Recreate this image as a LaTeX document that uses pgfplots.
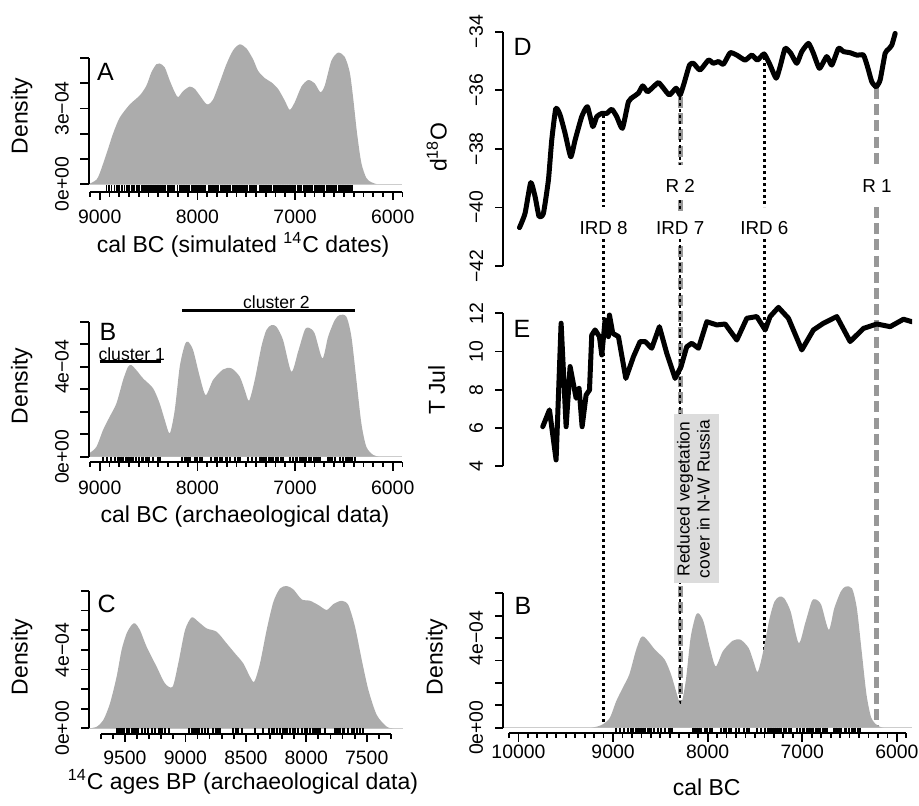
\documentclass[border=0pt]{standalone}
\usepackage{fontspec}
\setmainfont{Liberation Sans}
\usepackage{pgfplots}
\usepackage{pgfplotstable}
\pgfplotsset{compat=1.18}

\definecolor{densfill}{RGB}{172,172,172}
\definecolor{zerogray}{RGB}{205,205,205}
\definecolor{evgray}{RGB}{152,152,152}
\definecolor{boxgray}{RGB}{220,220,220}

\newcommand\tickfont{\fontsize{9.7}{11}\selectfont}
\newcommand\labfont{\fontsize{11.5}{13}\selectfont}
\newcommand\letfont{\fontsize{12.5}{14}\selectfont}
\newcommand\evfont{\fontsize{9.4}{11}\selectfont}
\newcommand\clusfont{\fontsize{8.8}{10}\selectfont}
\newcommand\boxfont{\fontsize{8.7}{10}\selectfont}

\tikzset{
  rline/.style={line width=0.9pt},
  xtl/.style={font=\tickfont, inner sep=0pt, anchor=center},
  ytl/.style={font=\tickfont, inner sep=0pt, rotate=90, anchor=center},
  ttl/.style={font=\labfont, inner sep=0pt, anchor=center},
  let/.style={font=\letfont, inner sep=0pt, anchor=west},
}
\pgfplotsset{
  panel/.style={scale only axis, hide axis, clip mode=individual, x dir=reverse, anchor=south west},
  dens/.style={fill=densfill, draw=none, smooth, tension=0.45},
  rug/.style={only marks, mark=|, mark size=1.45pt, mark options={line width=1.1pt, black}},
  proxy/.style={black, line width=2.5pt, line join=round, line cap=round},
  evline/.style={evgray, line width=2.5pt, dash pattern=on 5.5pt off 2.6pt},
  irdline/.style={black, line width=1.25pt, dash pattern=on 1.7pt off 1.3pt},
}

% density, simulated 14C dates (A)
\pgfplotstableread{
yr d
9109 0
9034 0.17e-4
9000 0.43e-4
8932 1.19e-4
8863 2.01e-4
8795 2.64e-4
8693 3.16e-4
8590 3.52e-4
8522 3.91e-4
8471 4.44e-4
8420 4.76e-4
8386 4.79e-4
8334 4.63e-4
8283 4.11e-4
8232 3.65e-4
8198 3.45e-4
8147 3.69e-4
8078 3.87e-4
8027 3.78e-4
7976 3.52e-4
7925 3.25e-4
7891 3.16e-4
7840 3.35e-4
7771 4.04e-4
7703 4.76e-4
7635 5.31e-4
7567 5.55e-4
7498 5.39e-4
7430 4.96e-4
7379 4.50e-4
7311 4.21e-4
7242 4.04e-4
7174 3.78e-4
7106 3.32e-4
7055 2.95e-4
7003 3.25e-4
6935 3.87e-4
6867 4.13e-4
6799 4.00e-4
6741 3.65e-4
6696 3.91e-4
6628 4.90e-4
6560 5.22e-4
6491 5.05e-4
6440 4.44e-4
6406 3.45e-4
6365 2.01e-4
6321 0.83e-4
6270 0.24e-4
6218 0.07e-4
6167 0
}\densA

% density, archaeological data (B)
\pgfplotstableread{
yr d
9230 0
9170 0.05e-4
9109 0.15e-4
9034 0.44e-4
8966 1.19e-4
8898 1.78e-4
8829 2.37e-4
8761 3.41e-4
8710 4.00e-4
8676 4.07e-4
8625 3.85e-4
8556 3.48e-4
8454 3.04e-4
8386 2.37e-4
8334 1.63e-4
8283 1.04e-4
8232 2.07e-4
8181 4.00e-4
8130 4.96e-4
8096 5.11e-4
8044 4.74e-4
7976 3.56e-4
7915 2.74e-4
7840 3.41e-4
7737 3.88e-4
7652 3.93e-4
7567 3.56e-4
7515 2.96e-4
7471 2.49e-4
7413 3.41e-4
7345 4.89e-4
7294 5.63e-4
7242 5.85e-4
7191 5.78e-4
7123 5.19e-4
7038 3.78e-4
6969 4.67e-4
6901 5.63e-4
6857 5.73e-4
6799 5.48e-4
6720 4.37e-4
6662 5.33e-4
6594 6.07e-4
6543 6.30e-4
6474 6.22e-4
6423 5.33e-4
6372 3.41e-4
6321 1.48e-4
6270 0.44e-4
6200 0.08e-4
6140 0
}\densB

% density, 14C ages BP (C)
\pgfplotstableread{
yr d
9795 0
9734 0.08e-4
9679 0.42e-4
9624 1.27e-4
9569 2.63e-4
9528 3.99e-4
9486 4.84e-4
9445 5.26e-4
9417 5.35e-4
9376 5.01e-4
9321 4.16e-4
9238 3.14e-4
9169 2.29e-4
9106 2.12e-4
9059 3.31e-4
9003 5.01e-4
8948 5.65e-4
8893 5.43e-4
8824 5.09e-4
8741 4.92e-4
8659 4.33e-4
8590 3.82e-4
8521 3.31e-4
8466 2.63e-4
8430 2.38e-4
8383 3.31e-4
8328 5.01e-4
8272 6.45e-4
8217 7.13e-4
8162 7.25e-4
8107 7.08e-4
8038 6.57e-4
7969 6.50e-4
7900 6.28e-4
7831 6.03e-4
7776 6.33e-4
7707 6.50e-4
7652 6.28e-4
7597 5.18e-4
7541 3.48e-4
7486 1.95e-4
7417 0.68e-4
7334 0.08e-4
7279 0
}\densC

% d18O (D)
\pgfplotstableread{
yr v
9989 -40.69
9930 -40.20
9870 -39.15
9824 -39.63
9782 -40.31
9736 -40.20
9683 -39.06
9648 -37.70
9605 -36.62
9560 -36.84
9507 -37.47
9447 -38.27
9401 -37.70
9331 -36.90
9271 -36.56
9214 -37.24
9172 -36.90
9119 -36.79
9066 -36.79
9013 -36.65
8961 -36.90
8901 -37.30
8837 -36.39
8784 -36.22
8732 -36.10
8686 -35.85
8636 -36.05
8580 -35.90
8520 -35.74
8467 -35.93
8404 -36.16
8333 -35.93
8291 -36.16
8249 -35.76
8192 -35.14
8150 -35.08
8080 -35.31
7992 -34.97
7939 -35.08
7886 -35.02
7833 -35.11
7762 -34.72
7692 -34.80
7604 -34.97
7533 -34.80
7474 -34.97
7403 -34.76
7340 -35.14
7276 -35.59
7234 -35.19
7181 -34.57
7121 -34.74
7058 -35.08
7005 -34.68
6934 -34.40
6882 -34.74
6818 -35.25
6741 -34.85
6688 -35.14
6617 -34.57
6564 -34.68
6494 -34.72
6423 -34.80
6353 -34.80
6311 -35.19
6265 -35.71
6219 -35.88
6177 -35.65
6124 -34.74
6089 -34.60
6054 -34.46
6018 -34.06
}\dO

% July temperature (E)
\pgfplotstableread{
yr t
9743 6.06
9672 6.94
9602 4.32
9549 11.48
9496 6.06
9454 9.21
9390 7.55
9359 8.07
9327 6.06
9285 7.72
9249 7.98
9225 10.86
9190 11.13
9144 10.78
9119 9.82
9084 11.65
9049 10.78
9038 11.91
9003 10.95
8943 10.78
8865 8.59
8784 9.73
8714 10.52
8661 10.52
8591 10.17
8510 11.30
8432 9.90
8344 8.59
8281 9.21
8221 10.25
8168 10.43
8097 10.17
8009 11.56
7903 11.39
7815 11.44
7692 10.60
7586 11.74
7481 11.83
7392 11.13
7340 11.83
7252 12.31
7146 11.74
7005 10.08
6882 11.13
6776 11.48
6635 11.83
6494 10.52
6353 11.21
6212 11.44
6071 11.30
5930 11.69
5842 11.56
}\tJul

% rugs (second column is a dummy weight)
\pgfplotstableread[row sep=\\]{yr w\\ 8930 1\\ 8905 1\\ 8878 1\\ 8850 1\\ 8826 1\\ 8800 1\\ 8772 1\\ 8745 1\\ 8720 1\\ 8698 1\\ 8670 1\\ 8648 1\\ 8620 1\\ 8595 1\\ 8570 1\\ 8545 1\\
8525 1\\ 8505 1\\ 8488 1\\ 8470 1\\ 8452 1\\ 8433 1\\ 8415 1\\ 8398 1\\ 8380 1\\ 8362 1\\ 8345 1\\ 8327 1\\ 8308 1\\ 8290 1\\ 8272 1\\ 8255 1\\ 8238 1\\ 8203 1\\ 8185 1\\ 8168 1\\ 8150 1\\ 8132 1\\ 8115 1\\ 8098 1\\ 8080 1\\ 8062 1\\ 8045 1\\ 8027 1\\ 8010 1\\ 7992 1\\ 7975 1\\ 7957 1\\ 7940 1\\ 7922 1\\ 7887 1\\ 7870 1\\ 7852 1\\ 7835 1\\ 7817 1\\ 7800 1\\ 7782 1\\ 7765 1\\ 7747 1\\ 7730 1\\ 7712 1\\ 7695 1\\ 7677 1\\ 7660 1\\ 7642 1\\ 7625 1\\ 7607 1\\ 7590 1\\ 7572 1\\ 7555 1\\ 7537 1\\ 7520 1\\ 7502 1\\ 7485 1\\ 7467 1\\ 7450 1\\ 7432 1\\ 7415 1\\ 7397 1\\ 7362 1\\ 7345 1\\ 7327 1\\ 7310 1\\ 7292 1\\ 7275 1\\ 7257 1\\ 7240 1\\ 7222 1\\ 7205 1\\ 7187 1\\ 7170 1\\ 7152 1\\ 7135 1\\ 7117 1\\ 7100 1\\ 7082 1\\ 7065 1\\ 7047 1\\ 7030 1\\ 7012 1\\ 6995 1\\ 6977 1\\ 6960 1\\ 6942 1\\ 6907 1\\ 6890 1\\ 6872 1\\ 6855 1\\ 6837 1\\ 6820 1\\ 6802 1\\ 6785 1\\ 6767 1\\ 6750 1\\ 6732 1\\ 6715 1\\ 6697 1\\ 6680 1\\ 6662 1\\ 6645 1\\ 6627 1\\ 6610 1\\ 6592 1\\ 6575 1\\ 6557 1\\ 6540 1\\ 6522 1\\ 6505 1\\ 6487 1\\ 6470 1\\ 6452 1\\ 6435 1\\ 6417 1\\
}\rugA

\pgfplotstableread[row sep=\\]{yr w\\ 8966 1\\ 8925 1\\ 8881 1\\ 8846 1\\ 8812 1\\ 8788 1\\ 8761 1\\ 8734 1\\ 8710 1\\ 8686 1\\ 8659 1\\ 8625 1\\ 8597 1\\ 8563 1\\ 8522 1\\ 8495 1\\ 8454 1\\ 8403 1\\ 8379 1\\
8154 1\\ 8130 1\\ 8113 1\\ 8096 1\\ 8072 1\\ 8027 1\\ 8003 1\\ 7976 1\\ 7959 1\\ 7857 1\\ 7823 1\\ 7805 1\\ 7771 1\\ 7754 1\\ 7703 1\\ 7669 1\\ 7618 1\\ 7584 1\\ 7560 1\\
7481 1\\ 7437 1\\ 7396 1\\ 7362 1\\ 7345 1\\ 7328 1\\ 7311 1\\ 7294 1\\ 7266 1\\ 7242 1\\ 7225 1\\ 7191 1\\ 7174 1\\ 7140 1\\ 7123 1\\
7055 1\\ 7020 1\\ 6986 1\\ 6952 1\\ 6935 1\\ 6918 1\\ 6901 1\\ 6884 1\\ 6857 1\\ 6833 1\\ 6809 1\\ 6782 1\\ 6765 1\\ 6741 1\\
6662 1\\ 6645 1\\ 6618 1\\ 6594 1\\ 6543 1\\ 6509 1\\ 6474 1\\ 6457 1\\ 6440 1\\ 6413 1\\ 6389 1\\
}\rugB

\pgfplotstableread[row sep=\\]{yr w\\ 9569 1\\ 9547 1\\ 9528 1\\ 9508 1\\ 9486 1\\ 9464 1\\ 9445 1\\ 9431 1\\ 9417 1\\ 9403 1\\ 9390 1\\ 9362 1\\ 9334 1\\ 9307 1\\ 9279 1\\ 9252 1\\ 9216 1\\ 9197 1\\ 9169 1\\ 9133 1\\
8968 1\\ 8948 1\\ 8934 1\\ 8921 1\\ 8907 1\\ 8885 1\\ 8866 1\\ 8838 1\\ 8810 1\\ 8769 1\\ 8747 1\\ 8728 1\\ 8714 1\\ 8603 1\\ 8581 1\\ 8562 1\\ 8534 1\\
8424 1\\ 8355 1\\ 8306 1\\ 8286 1\\ 8272 1\\ 8245 1\\ 8217 1\\ 8195 1\\ 8176 1\\ 8162 1\\ 8134 1\\ 8112 1\\ 8093 1\\ 8066 1\\ 8038 1\\ 8010 1\\ 7997 1\\ 7969 1\\ 7947 1\\ 7928 1\\ 7908 1\\ 7886 1\\ 7845 1\\
7762 1\\ 7748 1\\ 7726 1\\ 7693 1\\ 7652 1\\ 7624 1\\ 7610 1\\ 7583 1\\ 7555 1\\ 7528 1\\
}\rugC

\begin{document}
\begin{tikzpicture}
\useasboundingbox (0,0) rectangle (459.5pt,-402.5pt);

% event lines across the right column (y in pixels from the top)
\begin{axis}[scale only axis, hide axis, clip=false, anchor=south west,
  at={(251.65pt,-402.5pt)}, width=204.35pt, height=402.5pt,
  xmin=5840, xmax=10160, x dir=reverse, ymin=0, ymax=805, y dir=reverse]
\addplot[evline] coordinates {(8290,97) (8290,165)};
\addplot[evline] coordinates {(8290,200) (8290,211)};
\addplot[evline] coordinates {(8290,246) (8290,727)};
\addplot[evline] coordinates {(6220,88) (6220,165)};
\addplot[evline] coordinates {(6220,207) (6220,727)};
\addplot[irdline] coordinates {(9100,115) (9100,207)};
\addplot[irdline] coordinates {(9100,239) (9100,727)};
\addplot[irdline] coordinates {(8290,97) (8290,165)};
\addplot[irdline] coordinates {(8290,200) (8290,211)};
\addplot[irdline] coordinates {(8290,239) (8290,727)};
\addplot[irdline] coordinates {(7400,57) (7400,207)};
\addplot[irdline] coordinates {(7400,239) (7400,727)};
\fill[boxgray] (axis cs:8354,414) rectangle (axis cs:7879,583);
\node[rotate=90, align=center, font=\boxfont, inner sep=0pt] at (axis cs:8152,499)
  {Reduced vegetation\\cover in N-W Russia};
\node[font=\evfont, inner sep=0pt] at (axis cs:9100,228) {IRD 8};
\node[font=\evfont, inner sep=0pt] at (axis cs:8290,228) {IRD 7};
\node[font=\evfont, inner sep=0pt] at (axis cs:7400,228) {IRD 6};
\node[font=\evfont, inner sep=0pt] at (axis cs:8290,186) {R 2};
\node[font=\evfont, inner sep=0pt] at (axis cs:6211,186) {R 1};
\end{axis}

% A
\begin{axis}[panel, at={(44.5pt,-95.85pt)}, width=156.5pt, height=79.35pt,
  xmin=5905, xmax=9110, ymin=-0.305e-4, ymax=6e-4]
\draw[zerogray, line width=0.5pt] (axis cs:9110,0) -- (axis cs:5905,0);
\addplot[dens] table[x=yr, y=d] {\densA} \closedcycle;
\addplot[rug, mark options={line width=0.8pt}] table[x=yr, y expr=-0.15e-4] {\rugA};
\draw[rline] (axis cs:9100,-0.305e-4) -- (axis cs:5900,-0.305e-4);
\pgfplotsinvokeforeach{9100,9000,...,5900}{\draw[rline] (axis cs:#1,-0.305e-4) -- ++(0pt,-2.5pt);}
\pgfplotsinvokeforeach{9000,8000,7000,6000}{%
  \draw[rline] (axis cs:#1,-0.305e-4) -- ++(0pt,-4.2pt);
  \node[xtl] at ([yshift=-12.5pt]axis cs:#1,-0.305e-4) {#1};}
\draw[rline] (axis cs:9110,0) -- (axis cs:9110,5e-4);
\pgfplotsinvokeforeach{0,1e-4,2e-4,3e-4,4e-4,5e-4}{\draw[rline] (axis cs:9110,#1) -- ++(-4.3pt,0pt);}
\node[ytl] at ([xshift=-13.5pt]axis cs:9110,0) {0e+00};
\node[ytl] at ([xshift=-13.5pt]axis cs:9110,3e-4) {3e−04};
\end{axis}

% B
\begin{axis}[panel, at={(44.5pt,-231.15pt)}, width=156.5pt, height=81.55pt,
  xmin=5905, xmax=9110, ymin=-0.249e-4, ymax=7e-4]
\draw[zerogray, line width=0.5pt] (axis cs:9110,0) -- (axis cs:5905,0);
\addplot[dens] table[x=yr, y=d] {\densB} \closedcycle;
\addplot[rug] table[x=yr, y expr=-0.125e-4] {\rugB};
\draw[rline] (axis cs:9100,-0.249e-4) -- (axis cs:5900,-0.249e-4);
\pgfplotsinvokeforeach{9100,9000,...,5900}{\draw[rline] (axis cs:#1,-0.249e-4) -- ++(0pt,-2.5pt);}
\pgfplotsinvokeforeach{9000,8000,7000,6000}{%
  \draw[rline] (axis cs:#1,-0.249e-4) -- ++(0pt,-4.2pt);
  \node[xtl] at ([yshift=-12.85pt]axis cs:#1,-0.249e-4) {#1};}
\draw[rline] (axis cs:9110,0) -- (axis cs:9110,6e-4);
\pgfplotsinvokeforeach{0,1e-4,2e-4,3e-4,4e-4,5e-4,6e-4}{\draw[rline] (axis cs:9110,#1) -- ++(-4.3pt,0pt);}
\node[ytl] at ([xshift=-13.5pt]axis cs:9110,0) {0e+00};
\node[ytl] at ([xshift=-13.5pt]axis cs:9110,4e-4) {4e−04};
% clusters
\draw[line width=1.6pt] (axis cs:9000,4.22e-4) -- (axis cs:8369,4.22e-4);
\node[font=\clusfont, inner sep=0pt] at (axis cs:8672,4.57e-4) {cluster 1};
\draw[line width=1.6pt] (axis cs:8154,6.49e-4) -- (axis cs:6386,6.49e-4);
\node[font=\clusfont, inner sep=0pt] at (axis cs:7191,6.86e-4) {cluster 2};
\end{axis}

% C
\begin{axis}[panel, at={(44.65pt,-367pt)}, width=156.85pt, height=81.35pt,
  xmin=7200, xmax=9795, ymin=-0.29e-4, ymax=8e-4]
\draw[zerogray, line width=0.5pt] (axis cs:9795,0) -- (axis cs:7200,0);
\addplot[dens] table[x=yr, y=d] {\densC} \closedcycle;
\addplot[rug] table[x=yr, y expr=-0.145e-4] {\rugC};
\draw[rline] (axis cs:9700,-0.29e-4) -- (axis cs:7300,-0.29e-4);
\pgfplotsinvokeforeach{9700,9600,...,7300}{\draw[rline] (axis cs:#1,-0.29e-4) -- ++(0pt,-2.5pt);}
\pgfplotsinvokeforeach{9500,9000,8500,8000,7500}{%
  \draw[rline] (axis cs:#1,-0.29e-4) -- ++(0pt,-4.2pt);
  \node[xtl] at ([yshift=-11.8pt]axis cs:#1,-0.29e-4) {#1};}
\draw[rline] (axis cs:9795,0) -- (axis cs:9795,7e-4);
\pgfplotsinvokeforeach{0,1e-4,2e-4,3e-4,4e-4,5e-4,6e-4,7e-4}{\draw[rline] (axis cs:9795,#1) -- ++(-4.3pt,0pt);}
\node[ytl] at ([xshift=-13.5pt]axis cs:9795,0) {0e+00};
\node[ytl] at ([xshift=-13.5pt]axis cs:9795,4e-4) {4e−04};
\end{axis}

% D
\begin{axis}[panel, at={(251.65pt,-140.35pt)}, width=204.35pt, height=131.85pt,
  xmin=5840, xmax=10160, ymin=-42.5, ymax=-33.5]
\addplot[proxy, smooth, tension=0.3] table[x=yr, y=v] {\dO};
\draw[rline] (axis cs:10160,-42) -- (axis cs:10160,-34);
\pgfplotsinvokeforeach{-42,-40,-38,-36,-34}{\draw[rline] (axis cs:10160,#1) -- ++(-4.3pt,0pt);}
\node[ytl] at ([xshift=-13.5pt]axis cs:10160,-42) {−42};
\node[ytl] at ([xshift=-13.5pt]axis cs:10160,-40) {−40};
\node[ytl] at ([xshift=-13.5pt]axis cs:10160,-38) {−38};
\node[ytl] at ([xshift=-13.5pt]axis cs:10160,-36) {−36};
\node[ytl] at ([xshift=-13.5pt]axis cs:10160,-34) {−34};
\end{axis}

% E
\begin{axis}[panel, at={(251.65pt,-242.55pt)}, width=204.35pt, height=95.45pt,
  xmin=5840, xmax=10160, ymin=3, ymax=13]
\addplot[proxy] table[x=yr, y=t] {\tJul};
\draw[rline] (axis cs:10160,4) -- (axis cs:10160,12);
\pgfplotsinvokeforeach{4,6,8,10,12}{%
  \draw[rline] (axis cs:10160,#1) -- ++(-4.3pt,0pt);
  \node[ytl] at ([xshift=-13.5pt]axis cs:10160,#1) {#1};}
\end{axis}

% B on the common time axis
\begin{axis}[panel, at={(251.65pt,-366.65pt)}, width=204.35pt, height=81.2pt,
  xmin=5840, xmax=10160, ymin=-0.25e-4, ymax=7e-4]
\draw[zerogray, line width=0.5pt] (axis cs:10160,0) -- (axis cs:5840,0);
\addplot[dens] table[x=yr, y=d] {\densB} \closedcycle;
\addplot[rug] table[x=yr, y expr=-0.125e-4] {\rugB};
\draw[rline] (axis cs:10100,-0.25e-4) -- (axis cs:5900,-0.25e-4);
\pgfplotsinvokeforeach{10100,10000,...,5900}{\draw[rline] (axis cs:#1,-0.25e-4) -- ++(0pt,-2.5pt);}
\pgfplotsinvokeforeach{10000,9000,8000,7000,6000}{%
  \draw[rline] (axis cs:#1,-0.25e-4) -- ++(0pt,-4.2pt);
  \node[xtl] at ([yshift=-9.2pt]axis cs:#1,-0.25e-4) {#1};}
\draw[rline] (axis cs:10160,0) -- (axis cs:10160,6e-4);
\pgfplotsinvokeforeach{0,1e-4,2e-4,3e-4,4e-4,5e-4,6e-4}{\draw[rline] (axis cs:10160,#1) -- ++(-4.3pt,0pt);}
\node[ytl] at ([xshift=-13.5pt]axis cs:10160,0) {0e+00};
\node[ytl] at ([xshift=-13.5pt]axis cs:10160,4e-4) {4e−04};
\end{axis}

% titles and panel letters (pixel positions)
\begin{scope}[x=0.5pt, y=-0.5pt]
\node[ttl, rotate=90] at (21.7,116) {Density};
\node[ttl, rotate=90] at (21.7,386) {Density};
\node[ttl, rotate=90] at (21.7,657) {Density};
\node[ttl, rotate=90] at (436.7,147) {d\textsuperscript{18}O};
\node[ttl, rotate=90] at (436.7,390) {T Jul};
\node[ttl, rotate=90] at (436.7,657) {Density};
\node[ttl] at (243,245) {cal BC (simulated \textsuperscript{14}C dates)};
\node[ttl] at (245,517) {cal BC (archaeological data)};
\node[ttl] at (243,782) {\textsuperscript{14}C ages BP (archaeological data)};
\node[ttl] at (706.7,787) {cal BC};
\node[let] at (96.7,72) {A};
\node[let] at (99.3,332) {B};
\node[let] at (97.3,604) {C};
\node[let] at (513.3,47) {D};
\node[let] at (513.3,329) {E};
\node[let] at (514.3,606) {B};
\end{scope}
\end{tikzpicture}
\end{document}
